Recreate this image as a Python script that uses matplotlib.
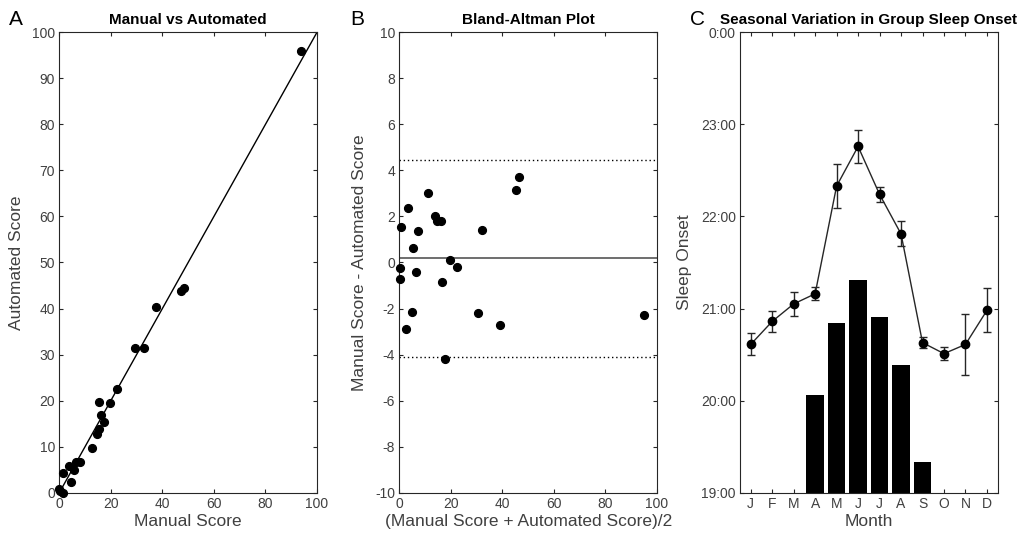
import matplotlib
matplotlib.use("Agg")
import matplotlib.pyplot as plt
import numpy as np
from matplotlib.ticker import FuncFormatter

plt.rcParams["font.family"] = ["Liberation Sans", "DejaVu Sans"]
plt.rcParams["axes.unicode_minus"] = False

# panel A / B data
manual = [1.55, 0.15, 0.0, 4.68, 1.36, 5.52, 3.72, 6.3, 8.08, 12.7, 14.7, 15.6,
          15.5, 16.1, 17.2, 19.65, 22.4, 29.3, 32.9, 37.65, 47.05, 48.25, 93.65]
automated = [0.0, 0.4, 0.7, 2.32, 4.24, 4.88, 5.88, 6.7, 6.72, 9.7, 12.7, 13.8,
             19.7, 16.95, 15.4, 19.55, 22.6, 31.5, 31.5, 40.35, 43.9, 44.55, 95.95]

# panel C data (hours)
months = ["J", "F", "M", "A", "M", "J", "J", "A", "S", "O", "N", "D"]
onset = [20.61, 20.86, 21.05, 21.16, 22.33, 22.76, 22.24, 21.81, 20.63, 20.51, 20.61, 20.98]
onset_err = [0.12, 0.116, 0.134, 0.07, 0.24, 0.18, 0.08, 0.136, 0.063, 0.07, 0.33, 0.24]
bar_top = [19.0, 19.0, 19.0, 20.06, 20.84, 21.31, 20.91, 20.39, 19.33, 19.0, 19.0, 19.0]

INK = "#262626"
TXT = "#404040"

fig = plt.figure(figsize=(10.17, 5.38), dpi=100)
w, h, b = 0.2534, 0.8558, 0.0842
ax_a = fig.add_axes([0.0583, b, w, h])
ax_b = fig.add_axes([0.3926, b, w, h])
ax_c = fig.add_axes([0.7276, b, w, h])


def style(ax):
    for s in ax.spines.values():
        s.set_color(INK)
        s.set_linewidth(0.8)
    ax.tick_params(direction="in", top=True, right=True, length=2.6, width=0.8,
                   color=INK, labelcolor=TXT, labelsize=10, pad=3)


m = np.array(manual)
a = np.array(automated)

# A: manual vs automated
ax_a.plot([0, 100], [0, 100], color="black", lw=1.0)
ax_a.plot(m, a, "o", color="black", ms=5.6, clip_on=False, zorder=5)
ax_a.set_xlim(0, 100)
ax_a.set_ylim(0, 100)
ax_a.set_xticks(range(0, 101, 20))
ax_a.set_yticks(range(0, 101, 10))
ax_a.set_title("Manual vs Automated", fontsize=11, fontweight="bold", pad=6)
ax_a.set_xlabel("Manual Score", fontsize=12.5, color=TXT, labelpad=2)
ax_a.set_ylabel("Automated Score", fontsize=12.5, color=TXT, labelpad=6)
style(ax_a)

# B: Bland-Altman
mean_ab = (m + a) / 2
diff_ab = m - a
md = diff_ab.mean()
sd = diff_ab.std(ddof=1)
ax_b.axhline(md, color="#555555", lw=1.2)
ax_b.axhline(md + 1.96 * sd, color="black", lw=1.0, ls=(0, (1, 2)))
ax_b.axhline(md - 1.96 * sd, color="black", lw=1.0, ls=(0, (1, 2)))
ax_b.plot(mean_ab, diff_ab, "o", color="black", ms=5.6, clip_on=False, zorder=5)
ax_b.set_xlim(0, 100)
ax_b.set_ylim(-10, 10)
ax_b.set_xticks(range(0, 101, 20))
ax_b.set_yticks(range(-10, 11, 2))
ax_b.set_title("Bland-Altman Plot", fontsize=11, fontweight="bold", pad=6)
ax_b.set_xlabel("(Manual Score + Automated Score)/2", fontsize=12.5, color=TXT, labelpad=2)
ax_b.set_ylabel("Manual Score - Automated Score", fontsize=12.5, color=TXT, labelpad=6)
style(ax_b)

# C: seasonal variation
x = np.arange(1, 13)
bt = np.array(bar_top)
ax_c.bar(x, bt - 19.0, bottom=19.0, width=0.82, color="black", zorder=2)
ax_c.errorbar(x, onset, yerr=onset_err, color=INK, lw=1.0, ecolor=INK, elinewidth=1.0,
              capsize=2.6, capthick=1.0, marker="o", ms=6, mfc="black", mec="black",
              zorder=4)
ax_c.set_xlim(0.5, 12.5)
ax_c.set_ylim(19, 24)
ax_c.set_xticks(x)
ax_c.set_xticklabels(months)
ax_c.set_yticks(range(19, 25))
ax_c.yaxis.set_major_formatter(FuncFormatter(lambda v, p: f"{int(round(v)) % 24}:00"))
ax_c.set_title("Seasonal Variation in Group Sleep Onset", fontsize=11, fontweight="bold", pad=6)
ax_c.set_xlabel("Month", fontsize=12.5, color=TXT, labelpad=2)
ax_c.set_ylabel("Sleep Onset", fontsize=12.5, color=TXT, labelpad=6)
style(ax_c)

for lab, xp in zip("ABC", [0.009, 0.344, 0.678]):
    fig.text(xp, 1 - 25 / 538, lab, fontsize=15, color="black", ha="left", va="baseline")

fig.savefig("out.png", dpi=100)
